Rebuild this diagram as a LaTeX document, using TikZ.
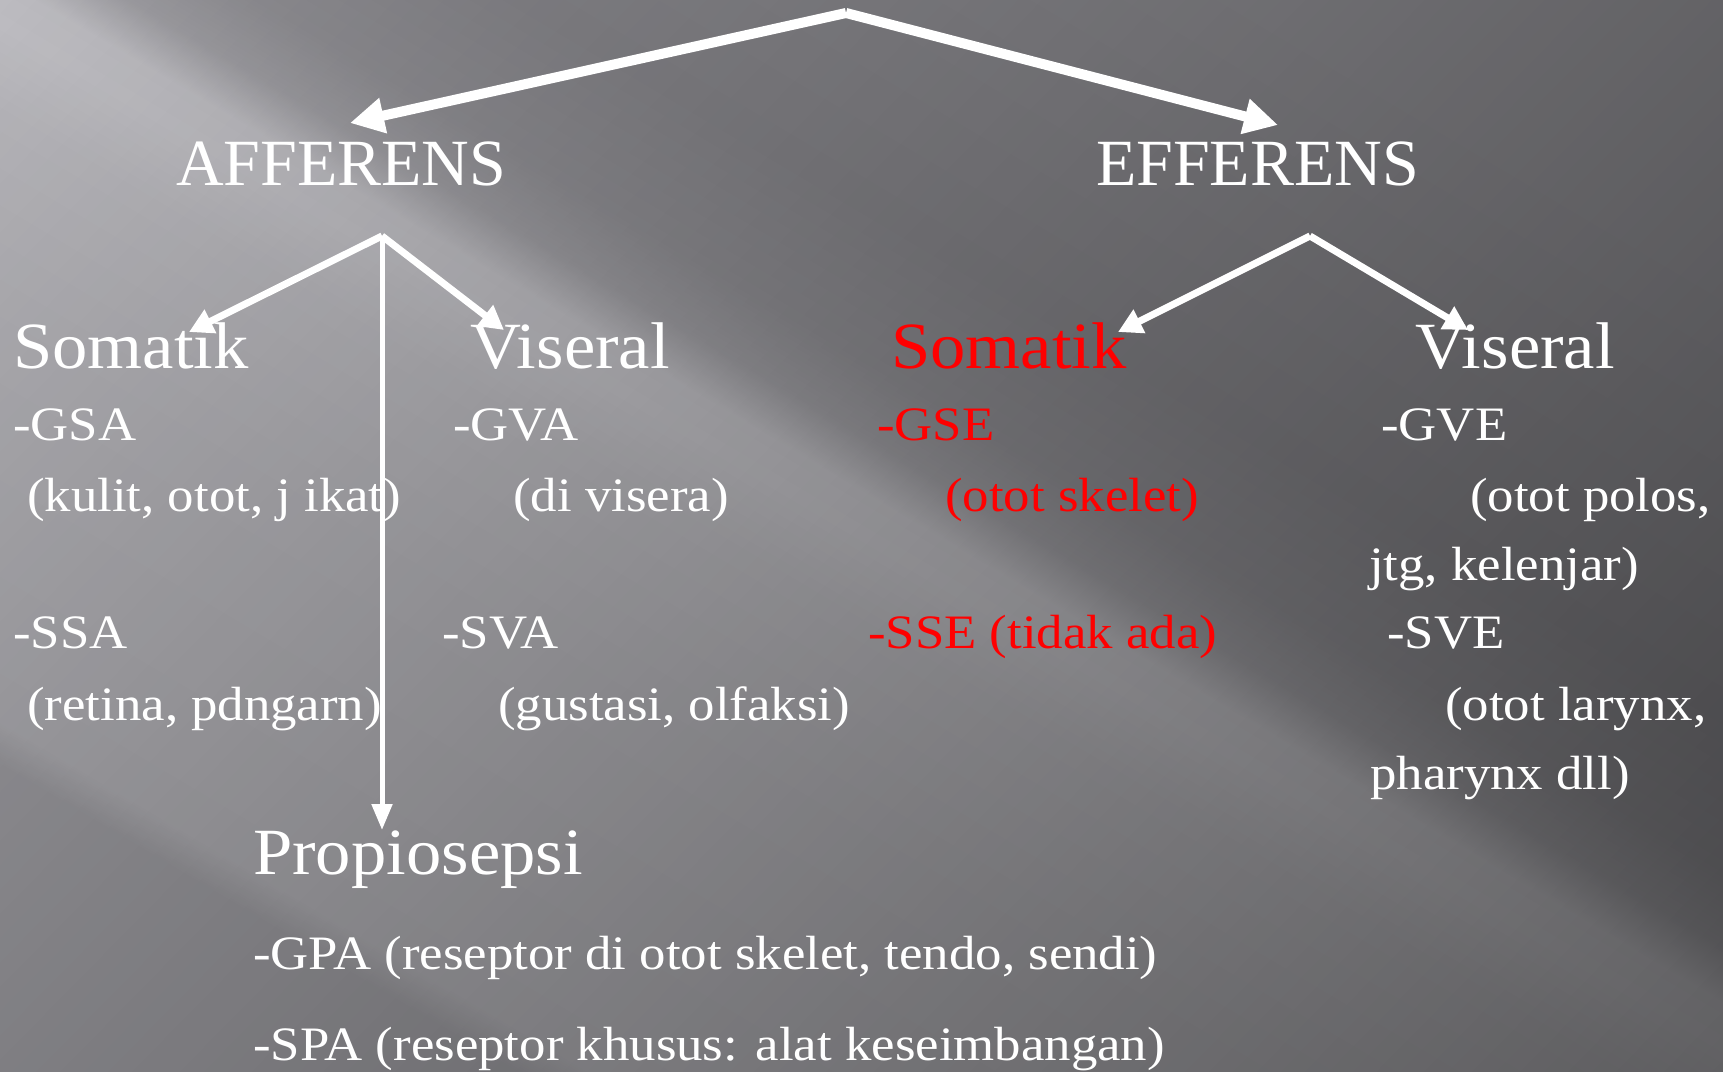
\documentclass[tikz,border=0pt]{standalone}
\usepackage{fontspec}
\setmainfont{Liberation Serif}[FakeStretch=1.10]
\newfontfamily\bigfont{Liberation Serif}[FakeStretch=1.07]
\newfontfamily\capfont{Liberation Serif}[FakeStretch=1.0]
\usetikzlibrary{arrows.meta,shadings}
% profile across the diagonal streak
\definecolor{pA}{RGB}{166,165,170}
\definecolor{pB}{RGB}{183,182,187}
\definecolor{pC}{RGB}{187,186,191}
\definecolor{pD}{RGB}{193,192,197}
\definecolor{pE}{RGB}{201,200,205}
\definecolor{pF}{RGB}{199,198,203}
\definecolor{pG}{RGB}{166,165,170}
\definecolor{pH}{RGB}{151,150,155}
\definecolor{pI}{RGB}{143,142,147}
\definecolor{pJ}{RGB}{151,150,155}
\pgfdeclarehorizontalshading{bgprofile}{100bp}{color(0bp)=(pA); color(25.7bp)=(pA); color(27.1bp)=(pB); color(39.8bp)=(pC); color(47.1bp)=(pD); color(50bp)=(pE); color(51.45bp)=(pF); color(53.3bp)=(pG); color(55.8bp)=(pH); color(60.9bp)=(pI); color(75.4bp)=(pJ); color(100bp)=(pJ)}
% along-streak darkening (multiplied)
\definecolor{mUL}{RGB}{240,240,240}
\definecolor{mUR}{RGB}{168,168,168}
\definecolor{mLL}{RGB}{196,196,196}
\definecolor{mLR}{RGB}{124,124,124}
\definecolor{hlred}{HTML}{FF0000}
\begin{document}
\begin{tikzpicture}[x=1pt,y=-1pt,
  big/.style={font=\bigfont\fontsize{66}{70}\selectfont, text=white, anchor=base west, inner sep=0pt},
  bigcap/.style={font=\capfont\fontsize{66}{70}\selectfont, text=white, anchor=base west, inner sep=0pt},
  small/.style={font=\fontsize{48}{52}\selectfont, text=white, anchor=base west, inner sep=0pt},
  hl/.style={text=hlred},
  arrtop/.style={draw=white, line width=10pt, -{Triangle[length=34pt,width=34pt]}},
  arrmid/.style={draw=white, line width=7pt, -{Triangle[length=24pt,width=25pt]}},
  arrdown/.style={draw=white, line width=5pt, -{Triangle[length=26pt,width=20pt]}}]
\useasboundingbox (0,0) rectangle (1723,1071);
\shade[shading=bgprofile, shading angle=59.3] (0,0) rectangle (1723,1071);
\shade[upper left=mUL, upper right=mUR, lower left=mLL, lower right=mLR, blend mode=multiply] (0,0) rectangle (1723,1071);

% level 1
\node[bigcap] (aff) at (176,185) {AFFERENS};
\node[bigcap] (eff) at (1096,185) {EFFERENS};
% level 2
\node[big] (somL) at (13,368) {Somatik};
\node[big] (visL) at (470,368) {Viseral};
\node[big, hl] (somR) at (891,368) {Somatik};
\node[big] (visR) at (1415,368) {Viseral};
% afferent somatic
\node[small] (gsa) at (13,440) {-GSA};
\node[small] (gsad) at (27,511) {(kulit, otot, j ikat)};
\node[small] (ssa) at (13,648) {-SSA};
\node[small] (ssad) at (27,720) {(retina, pdngarn)};
% afferent visceral
\node[small] (gva) at (453,440) {-GVA};
\node[small] (gvad) at (513,511) {(di visera)};
\node[small] (sva) at (442,648) {-SVA};
\node[small] (svad) at (498,720) {(gustasi, olfaksi)};
% efferent somatic
\node[small, hl] (gse) at (877,440) {-GSE};
\node[small, hl] (gsed) at (945,511) {(otot skelet)};
\node[small, hl] (sse) at (868,648) {-SSE (tidak ada)};
% efferent visceral
\node[small] (gve) at (1381,440) {-GVE};
\node[small] (gved1) at (1470,511) {(otot polos,};
\node[small] (gved2) at (1369,580) {jtg, kelenjar)};
\node[small] (sve) at (1387,648) {-SVE};
\node[small] (sved1) at (1445,720) {(otot larynx,};
\node[small] (sved2) at (1370,789) {pharynx dll)};
% proprioception
\node[big] (prop) at (253,874) {Propiosepsi};
\node[small] (gpa) at (253,969) {-GPA (reseptor di otot skelet, tendo, sendi)};
\node[small] (spa) at (253,1060) {-SPA (reseptor khusus: alat keseimbangan)};

% connectors
\coordinate (top) at (846,13);
\coordinate (affTip) at (350,123);
\coordinate (effTip) at (1278,125);
\coordinate (affFork) at (382,236);
\coordinate (effFork) at (1310,236);
\coordinate (somLTip) at (189,332);
\coordinate (visLTip) at (504,330);
\coordinate (propTip) at (382,830);
\coordinate (somRTip) at (1118,332);
\coordinate (visRTip) at (1468,330);

\draw[arrtop] (top) -- (affTip);
\draw[arrtop] (top) -- (effTip);
\draw[arrmid] (affFork) -- (somLTip);
\draw[arrmid] (affFork) -- (visLTip);
\draw[arrdown] (affFork) -- (propTip);
\draw[arrmid] (effFork) -- (somRTip);
\draw[arrmid] (effFork) -- (visRTip);
\end{tikzpicture}
\end{document}
